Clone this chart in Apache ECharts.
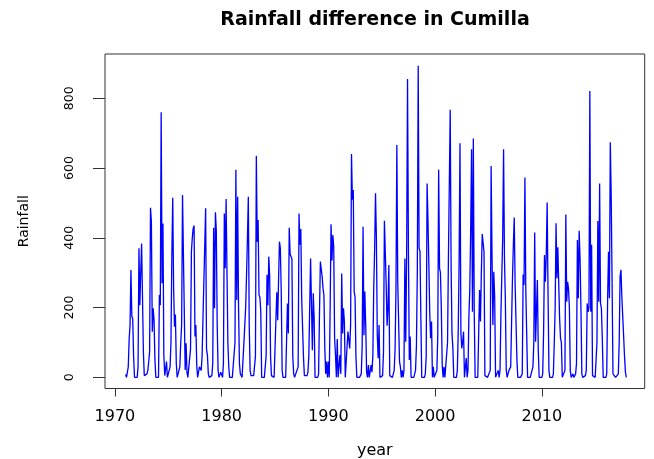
<!DOCTYPE html>
<html>
<head>
<meta charset="utf-8">
<script src="https://cdn.jsdelivr.net/npm/echarts@6/dist/echarts.min.js"></script>
<style>
html,body{margin:0;padding:0;background:#fff;}
#chart{width:654px;height:459px;}
</style>
</head>
<body>
<div id="chart"></div>
<script>
// ---- data (monthly values, Jan 1971 .. Dec 2017) ----
const startYear = 1971;
const rain1971to1980 = [
  8, 0, 2, 30, 110, 150, 308, 175, 168, 60, 0, 0,
  0, 0, 30, 370, 207, 300, 384, 230, 74, 5, 0, 0,
  10, 20, 45, 74, 486, 446, 131, 198, 164, 50, 0, 0,
  0, 0, 236, 207, 760, 270, 441, 64, 5, 0, 45, 0,
  0, 5, 30, 100, 350, 515, 255, 145, 180, 40, 0, 0,
  5, 30, 100, 150, 523, 520, 518, 21, 98, 15, 0, 0,
  0, 80, 360, 400, 427, 435, 117, 150, 35, 0, 0, 30,
  35, 20, 60, 169, 169, 170, 485, 80, 64, 11, 0, 0,
  0, 5, 40, 429, 198, 473, 420, 150, 20, 0, 0, 15,
  18, 0, 40, 470, 313, 511, 300, 100, 30, 0, 0, 0
];
const rain1981to1990 = [
  0, 0, 5, 100, 595, 222, 518, 200, 40, 10, 5, 0,
  0, 98, 100, 200, 294, 400, 518, 150, 20, 5, 0, 0,
  5, 10, 60, 635, 389, 451, 236, 230, 190, 0, 0, 0,
  0, 0, 60, 294, 207, 346, 290, 60, 5, 0, 0, 0,
  0, 5, 244, 164, 280, 389, 370, 246, 20, 0, 0, 0,
  0, 0, 212, 126, 429, 353, 353, 340, 60, 10, 0, 0,
  15, 20, 30, 470, 380, 425, 227, 230, 60, 5, 0, 0,
  5, 15, 60, 200, 341, 337, 78, 241, 170, 0, 0, 0,
  0, 10, 180, 332, 310, 289, 255, 236, 83, 10, 45, 0,
  45, 0, 200, 439, 335, 408, 375, 112, 65, 0, 110, 0
];
const rain1991to2000 = [
  0, 64, 10, 298, 126, 198, 160, 0, 0, 0, 131, 126,
  83, 150, 640, 509, 537, 246, 230, 60, 0, 0, 0, 0,
  0, 10, 90, 432, 121, 246, 150, 15, 0, 35, 0, 0,
  35, 15, 60, 255, 365, 528, 400, 121, 55, 150, 0, 0,
  0, 5, 74, 449, 360, 265, 148, 198, 322, 5, 0, 0,
  0, 5, 20, 80, 250, 666, 274, 274, 45, 30, 0, 20,
  0, 20, 341, 102, 350, 855, 370, 50, 117, 0, 0, 0,
  0, 0, 20, 90, 300, 893, 370, 362, 170, 0, 0, 0,
  0, 10, 60, 556, 450, 320, 183, 112, 160, 0, 30, 0,
  0, 5, 20, 120, 595, 313, 300, 198, 35, 0, 30, 0
];
const rain2001to2010 = [
  0, 5, 100, 346, 346, 767, 320, 126, 83, 0, 0, 0,
  0, 20, 131, 332, 671, 130, 83, 102, 131, 0, 0, 55,
  0, 20, 174, 250, 420, 654, 188, 685, 188, 0, 0, 0,
  0, 0, 250, 160, 300, 411, 411, 360, 5, 0, 0, 0,
  0, 0, 20, 606, 350, 150, 303, 230, 0, 0, 0, 20,
  0, 20, 179, 179, 400, 654, 341, 222, 20, 0, 0, 20,
  21, 30, 35, 284, 380, 458, 265, 265, 50, 0, 0, 0,
  0, 0, 10, 295, 265, 573, 248, 248, 0, 0, 0, 0,
  0, 20, 30, 100, 415, 102, 102, 279, 80, 0, 0, 0,
  0, 10, 130, 351, 274, 351, 501, 240, 20, 0, 0, 0
];
const rain2011to2017 = [
  0, 10, 100, 198, 442, 284, 373, 373, 170, 112, 100, 0,
  0, 0, 20, 467, 217, 274, 255, 200, 20, 0, 0, 10,
  0, 5, 10, 40, 394, 227, 420, 340, 198, 10, 0, 0,
  0, 5, 20, 212, 188, 200, 821, 188, 380, 5, 0, 0,
  0, 5, 100, 448, 217, 556, 212, 198, 112, 0, 0, 0,
  0, 10, 227, 360, 227, 674, 523, 274, 10, 5, 5, 0,
  0, 5, 10, 100, 289, 308, 230, 174, 169, 60, 15, 0
];
const xTickValues = [1970, 1980, 1990, 2000, 2010];
const yTickValues = [0, 200, 400, 600, 800];
const titleText = 'Rainfall difference in Cumilla';
const xName = 'year';
const yName = 'Rainfall';

// ---- build series from the arrays ----
const allRain = [].concat(rain1971to1980, rain1981to1990, rain1991to2000, rain2001to2010, rain2011to2017);
const seriesData = allRain.map((v, i) => [startYear + i / 12, v]);

const chart = echarts.init(document.getElementById('chart'), null, {renderer: 'canvas'});
const font = 'DejaVu Sans';
chart.setOption({
  animation: false,
  backgroundColor: '#ffffff',
  title: {
    text: titleText,
    left: 375,
    top: 11,
    padding: 0,
    textAlign: 'center',
    textStyle: {fontFamily: font, fontWeight: 'bold', fontSize: 19, color: '#000'}
  },
  grid: {
    left: 105, right: 9.3, top: 54, bottom: 70.5,
    containLabel: false,
    outerBoundsMode: 'none',
    show: true,
    borderColor: '#333',
    borderWidth: 1,
    backgroundColor: 'transparent'
  },
  xAxis: {
    type: 'value',
    min: 1969.07,
    max: 2019.64,
    name: xName,
    nameLocation: 'middle',
    nameGap: 54.5,
    nameTextStyle: {fontFamily: font, fontSize: 16, color: '#000'},
    axisLine: {show: false, onZero: false},
    splitLine: {show: false},
    axisTick: {show: true, inside: false, length: 8, customValues: xTickValues,
      lineStyle: {color: '#333', width: 1}},
    axisLabel: {show: true, margin: 20, customValues: xTickValues,
      fontFamily: font, fontSize: 16, color: '#000',
      formatter: v => String(v)}
  },
  yAxis: {
    type: 'value',
    min: -32,
    max: 927,
    name: yName,
    nameLocation: 'middle',
    nameRotate: 90,
    nameGap: 73.4,
    nameTextStyle: {fontFamily: font, fontSize: 14, color: '#000'},
    axisLine: {show: false, onZero: false},
    splitLine: {show: false},
    axisTick: {show: true, inside: false, length: 12, customValues: yTickValues,
      lineStyle: {color: '#333', width: 1}},
    axisLabel: {show: true, rotate: 90, margin: 29, customValues: yTickValues,
      fontFamily: font, fontSize: 12.5, color: '#000',
      formatter: v => String(v)}
  },
  series: [{
    type: 'line',
    data: seriesData,
    showSymbol: false,
    symbol: 'none',
    lineStyle: {color: '#0000ff', width: 1.3},
    clip: false
  }]
});
</script>
</body>
</html>
